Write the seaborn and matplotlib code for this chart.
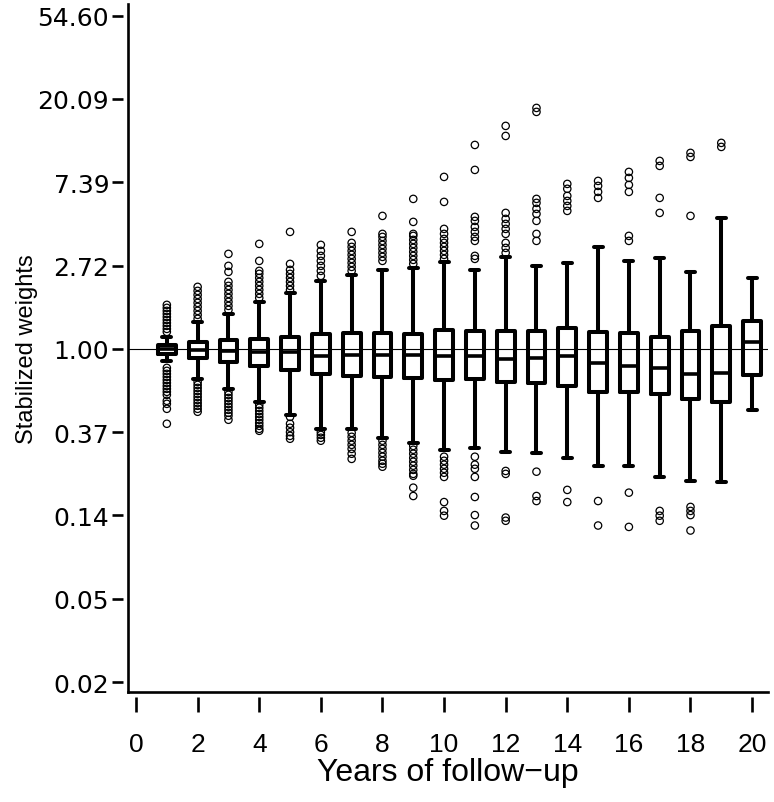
import matplotlib
matplotlib.use("Agg")
import matplotlib.pyplot as plt
import numpy as np
import pandas as pd
import seaborn as sns
from matplotlib.ticker import NullLocator

# box summaries (stabilized weights, per year of follow-up)
years = list(range(1, 21))
whisker_lo = [0.866, 0.698, 0.619, 0.529, 0.453, 0.383, 0.383, 0.344, 0.324, 0.298,
              0.305, 0.291, 0.287, 0.270, 0.246, 0.246, 0.215, 0.205, 0.203, 0.481]
q1 = [0.942, 0.898, 0.856, 0.815, 0.777, 0.741, 0.723, 0.715, 0.706, 0.689,
      0.698, 0.673, 0.665, 0.641, 0.597, 0.597, 0.583, 0.549, 0.529, 0.732]
median = [1.000, 0.988, 0.976, 0.965, 0.965, 0.919, 0.931, 0.931, 0.931, 0.919,
          0.919, 0.887, 0.898, 0.919, 0.845, 0.815, 0.796, 0.741, 0.750, 1.088]
q3 = [1.049, 1.088, 1.114, 1.128, 1.155, 1.197, 1.212, 1.212, 1.197, 1.256,
      1.241, 1.241, 1.241, 1.287, 1.226, 1.212, 1.155, 1.241, 1.318, 1.399]
whisker_hi = [1.155, 1.383, 1.522, 1.758, 1.958, 2.262, 2.430, 2.581, 2.643, 2.841,
              2.581, 3.016, 2.708, 2.807, 3.401, 2.875, 2.980, 2.520, 4.817, 2.345]

outliers_hi = [
    [1.226, 1.271, 1.318, 1.366, 1.416, 1.468, 1.522, 1.578, 1.636, 1.696],
    [1.434, 1.504, 1.578, 1.655, 1.737, 1.822, 1.912, 2.006, 2.105],
    [1.597, 1.675, 1.758, 1.844, 1.935, 2.030, 2.130, 2.235, 2.520, 2.708, 3.127],
    [1.844, 1.935, 2.030, 2.130, 2.235, 2.345, 2.460, 2.550, 2.875, 3.526],
    [2.030, 2.130, 2.235, 2.345, 2.460, 2.581, 2.773, 4.072],
    [2.402, 2.550, 2.708, 2.875, 3.053, 3.242, 3.484],
    [2.550, 2.675, 2.807, 2.945, 3.090, 3.242, 3.401, 3.568, 4.072],
    [2.875, 3.016, 3.165, 3.320, 3.484, 3.655, 3.834, 3.975, 4.933],
    [2.773, 2.910, 3.053, 3.203, 3.360, 3.526, 3.699, 3.881, 3.975, 4.591, 6.050],
    [2.945, 3.090, 3.242, 3.401, 3.568, 3.743, 3.975, 4.221, 5.836, 7.878],
    [2.945, 3.053, 3.655, 3.834, 4.072, 4.323, 4.646, 4.875, 8.568, 11.56],
    [3.165, 3.360, 3.568, 3.975, 4.221, 4.482, 4.760, 5.114, 12.88, 14.53],
    [3.655, 3.975, 4.646, 5.053, 5.370, 5.767, 6.050, 17.19, 18.03],
    [5.239, 5.562, 5.906, 6.272, 6.830, 7.243],
    [6.123, 6.580, 7.072, 7.508],
    [3.655, 3.881, 6.580, 7.158, 7.784, 8.364],
    [5.114, 6.123, 8.990, 9.545],
    [4.933, 10.01, 10.51],
    [11.29, 11.85],
    [],
]
outliers_lo = [
    [0.796, 0.768, 0.741, 0.715, 0.689, 0.665, 0.641, 0.619, 0.597, 0.576, 0.536, 0.517, 0.487, 0.407],
    [0.673, 0.649, 0.626, 0.604, 0.583, 0.562, 0.542, 0.523, 0.505, 0.487, 0.470],
    [0.597, 0.576, 0.555, 0.536, 0.517, 0.499, 0.481, 0.464, 0.448, 0.427],
    [0.511, 0.493, 0.475, 0.458, 0.442, 0.427, 0.411, 0.397, 0.383, 0.374],
    [0.442, 0.407, 0.388, 0.368, 0.352, 0.340],
    [0.368, 0.356, 0.344, 0.332],
    [0.365, 0.348, 0.332, 0.316, 0.301, 0.284, 0.267],
    [0.332, 0.316, 0.301, 0.287, 0.274, 0.261, 0.252, 0.243],
    [0.312, 0.298, 0.284, 0.270, 0.258, 0.246, 0.234, 0.223, 0.218, 0.189, 0.171],
    [0.274, 0.261, 0.249, 0.237, 0.226, 0.215, 0.159, 0.143, 0.135],
    [0.274, 0.249, 0.237, 0.215, 0.169, 0.136, 0.120],
    [0.231, 0.223, 0.132, 0.127],
    [0.229, 0.171, 0.161],
    [0.184, 0.159],
    [0.161, 0.120],
    [0.178, 0.118],
    [0.143, 0.135, 0.127],
    [0.150, 0.143, 0.136, 0.113],
    [],
    [],
]

# long-format table: each box rebuilt from its five-number summary
rows = []
for i, yr in enumerate(years):
    rows.append((yr, whisker_lo[i]))
    rows += [(yr, q1[i])] * 100
    rows += [(yr, median[i])] * 100
    rows += [(yr, q3[i])] * 100
    rows.append((yr, whisker_hi[i]))
box_df = pd.DataFrame(rows, columns=["year", "weight"])

out_rows = []
for i, yr in enumerate(years):
    for v in outliers_hi[i] + outliers_lo[i]:
        out_rows.append((yr, v))
out_df = pd.DataFrame(out_rows, columns=["year", "weight"])

sns.set_style("ticks", {"axes.edgecolor": "black", "xtick.color": "black",
                        "ytick.color": "black", "text.color": "black",
                        "axes.labelcolor": "black"})
plt.rcParams["font.family"] = ["Liberation Sans", "DejaVu Sans"]

fig = plt.figure(figsize=(7.74, 8.03), dpi=100)
ax = fig.add_axes([0.1654, 0.137, 0.827, 0.857])
ax.set_yscale("log")

box_w = 0.58
sns.boxplot(
    data=box_df, x="year", y="weight",
    native_scale=True, width=box_w, whis=(0, 100),
    fill=False, color="black", linewidth=2.9,
    showfliers=False,
    medianprops=dict(linewidth=2.6, color="black"),
    ax=ax,
)
# medians as heavy as the box outline
for ln in ax.get_lines():
    xd = np.asarray(ln.get_xdata(), dtype=float)
    yd = np.asarray(ln.get_ydata(), dtype=float)
    if len(xd) == 2 and np.isclose(yd[0], yd[1]) and abs(xd[1] - xd[0]) > 0.4:
        ln.set_linewidth(2.6)

# reference line at weight 1
ax.axhline(1.0, color="black", lw=0.8, zorder=0)

sns.scatterplot(
    data=out_df, x="year", y="weight",
    marker="o", s=28, facecolor="none", edgecolor="black", linewidth=0.9,
    ax=ax, zorder=3,
)

ax.set_xlim(-0.26, 20.52)
ax.set_ylim(0.01627, 62.9)
ax.set_xlabel("")
ax.set_ylabel("")
sns.despine(ax=ax)
for s in ["left", "bottom"]:
    ax.spines[s].set_linewidth(1.9)
    ax.spines[s].set_color("black")

# ticks sit a few pixels away from the axis lines, as in the original
ax.tick_params(axis="both", length=0, labelbottom=False, labelleft=False)
ax.yaxis.set_minor_locator(NullLocator())

yt = np.exp(np.arange(-4, 5))
sy = ax.secondary_yaxis(-0.0078)
sy.set_yticks(yt)
sy.set_yticklabels([f"{v:.2f}" for v in yt], fontfamily="DejaVu Sans")
sy.yaxis.set_minor_locator(NullLocator())
sy.spines["left"].set_visible(False)
sy.tick_params(axis="y", length=8, width=1.9, pad=2, labelsize=18,
               color="black", labelcolor="black")
sy.set_ylabel("Stabilized weights", fontsize=17, labelpad=0, color="black")

sx = ax.secondary_xaxis(-0.0073)
sx.set_xticks(range(0, 21, 2))
sx.spines["bottom"].set_visible(False)
sx.tick_params(axis="x", length=11, width=1.9, pad=14, labelsize=19,
               color="black", labelcolor="black")
sx.set_xlabel("Years of follow\u2212up", fontsize=23, labelpad=1, color="black")

fig.savefig("out.png", dpi=100)
